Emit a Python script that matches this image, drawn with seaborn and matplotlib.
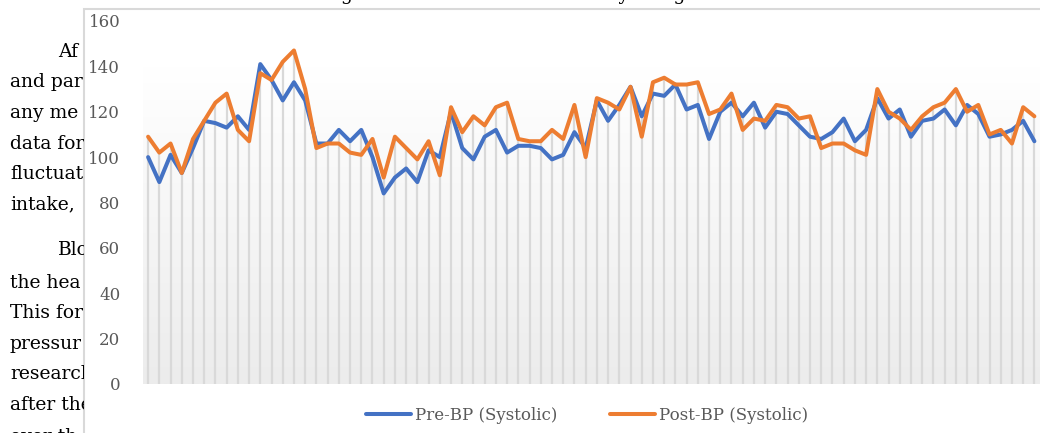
import numpy as np
import pandas as pd
import seaborn as sns
import matplotlib.pyplot as plt
from matplotlib.colors import LinearSegmentedColormap
from matplotlib.patches import Rectangle

# systolic readings per participant
pre_bp = [100, 89, 101, 93, 104, 116, 115, 113, 118, 112,
          141, 134, 125, 133, 125, 106, 106, 112, 107, 112,
          100, 84, 91, 95, 89, 103, 100, 120, 104, 99,
          109, 112, 102, 105, 105, 104, 99, 101, 111, 104,
          125, 116, 123, 131, 118, 128, 127, 132, 121, 123,
          108, 120, 124, 118, 124, 113, 120, 119, 114, 109,
          108, 111, 117, 107, 112, 126, 117, 121, 109, 116,
          117, 121, 114, 123, 119, 109, 110, 112, 116, 107]
post_bp = [109, 102, 106, 93, 108, 116, 124, 128, 112, 107,
           137, 134, 142, 147, 130, 104, 106, 106, 102, 101,
           108, 91, 109, 104, 99, 107, 92, 122, 111, 118,
           114, 122, 124, 108, 107, 107, 112, 108, 123, 100,
           126, 124, 121, 131, 109, 133, 135, 132, 132, 133,
           119, 121, 128, 112, 117, 116, 123, 122, 117, 118,
           104, 106, 106, 103, 101, 130, 120, 117, 112, 118,
           122, 124, 130, 120, 123, 110, 112, 106, 122, 118]
series_names = ["Pre-BP (Systolic)", "Post-BP (Systolic)"]
y_ticks = [0, 20, 40, 60, 80, 100, 120, 140, 160]

# page text peeking out from behind the chart (cut at the chart frame)
doc_lines = ["Af", "and par", "any me", "data for", "fluctuat", "intake,",
             "Blo", "the hea", "This for", "pressur", "research", "after the", "over th"]
doc_line_y = [52, 82, 113, 144, 174, 204, 250, 283, 313, 344, 374, 405, 437]
indented = {0, 6}
caption = "Figure 1: Flowchart of the study design."

idx = np.arange(len(pre_bp))
df = pd.DataFrame({
    "participant": np.concatenate([idx, idx]),
    "bp": pre_bp + post_bp,
    "series": [series_names[0]] * len(pre_bp) + [series_names[1]] * len(post_bp),
})

sns.set_theme(style="white")
plt.rcParams["font.family"] = ["DejaVu Serif", "Liberation Serif"]

W, H = 1040, 433
fig = plt.figure(figsize=(W / 100, H / 100), dpi=100)

# background layer: caption and chart frame
bg = fig.add_axes([0, 0, 1, 1])
bg.set_xlim(0, W)
bg.set_ylim(H, 0)
bg.axis("off")
bg.text(322, 0.5, caption, fontsize=13.5, color="black", va="baseline", ha="left")
bg.add_patch(Rectangle((84, 9), W, H, facecolor="white", edgecolor="#d9d9d9", lw=1.5))

# strip of page text left of the chart frame
page = fig.add_axes([0, 0, 83.5 / W, 1])
page.set_xlim(0, 83.5)
page.set_ylim(H, 0)
page.axis("off")
for i, (txt, yy) in enumerate(zip(doc_lines, doc_line_y)):
    page.text(58 if i in indented else 10, yy, txt, fontsize=13.5, color="black",
              va="center", ha="left", clip_on=True)

left = 142.5 / W
bottom = 1 - 384 / H
top = 1 - 21 / H
ax = fig.add_axes([left, bottom, 1 - left, top - bottom])
ax.patch.set_alpha(0)

# soft gray gradient in the lower part of the plot area
cmap = LinearSegmentedColormap.from_list("bgfade", ["#ffffff", "#ececec"])
grad = np.linspace(0, 1, 256).reshape(-1, 1)
ax.imshow(grad, extent=(-0.5, len(idx) - 0.5, 0, 140), aspect="auto",
          cmap=cmap, zorder=0, origin="upper")

# drop lines from the higher reading to the axis
ax.vlines(idx, 0, np.maximum(pre_bp, post_bp), color="#d9d9d9", lw=1.6, zorder=1)

sns.lineplot(data=df, x="participant", y="bp", hue="series",
             palette=["#4472C4", "#ED7D31"], linewidth=2.9, ax=ax, zorder=3)

ax.set_xlim(-0.5, len(idx) - 0.5)
ax.set_ylim(0, 160)
ax.set_yticks(y_ticks)
ax.set_xticks([])
ax.set_xlabel("")
ax.set_ylabel("")
ax.tick_params(axis="y", length=0, pad=16, labelsize=12, labelcolor="#595959")
for s in ax.spines.values():
    s.set_visible(False)

leg = ax.legend(loc="center", bbox_to_anchor=(587 / W, 1 - 415 / H),
                bbox_transform=fig.transFigure, ncol=2, frameon=False,
                fontsize=12, handlelength=2.7, handletextpad=0.2, columnspacing=3.2)
for t in leg.get_texts():
    t.set_color("#595959")

fig.savefig("out.png", dpi=100)
